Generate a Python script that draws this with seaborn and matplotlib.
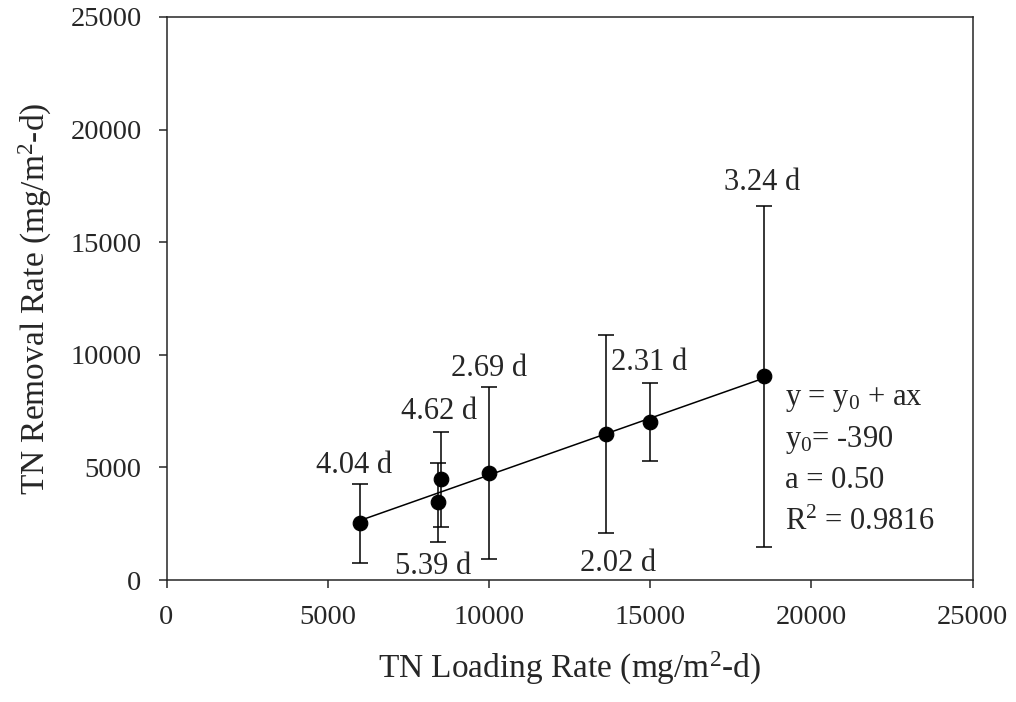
import numpy as np
import pandas as pd
import matplotlib
matplotlib.use('Agg')
import matplotlib.pyplot as plt
import seaborn as sns

# datos
loading = [6000, 8500, 8430, 10000, 13620, 15000, 18540]
removal = [2510, 4480, 3455, 4750, 6465, 7005, 9045]
removal_sd = [1740, 2110, 1755, 3830, 4400, 1725, 7565]
hrt = ['4.04 d', '4.62 d', '5.39 d', '2.69 d', '2.02 d', '2.31 d', '3.24 d']
side = ['above', 'above', 'below', 'above', 'below', 'above', 'above']

eq_lines = ['y = y$_0$ + ax', 'y$_0$= -390', 'a = 0.50', 'R$^2$ = 0.9816']

df = pd.DataFrame({'loading': loading, 'removal': removal, 'sd': removal_sd})

sns.set_style('ticks')
plt.rcParams['font.family'] = ['Liberation Serif', 'DejaVu Serif']
plt.rcParams['mathtext.fontset'] = 'custom'
plt.rcParams['mathtext.rm'] = 'Liberation Serif'
plt.rcParams['mathtext.it'] = 'Liberation Serif:italic'
plt.rcParams['axes.linewidth'] = 1.1
plt.rcParams['xtick.major.width'] = 1.1
plt.rcParams['ytick.major.width'] = 1.1
plt.rcParams['xtick.major.size'] = 6
plt.rcParams['ytick.major.size'] = 6

fig = plt.figure(figsize=(10.16, 7.02), dpi=100, facecolor='white')
ax = fig.add_axes([166.5 / 1016, 122 / 702, 806 / 1016, 563 / 702])

# linea de regresion
sns.regplot(data=df, x='loading', y='removal', ci=None, scatter=False,
            line_kws={'color': 'black', 'lw': 1.1}, ax=ax)

ax.errorbar(df['loading'], df['removal'], yerr=df['sd'], fmt='none',
            ecolor='black', elinewidth=1.1, capsize=6, capthick=1.1, zorder=2)

sns.scatterplot(data=df, x='loading', y='removal', color='black', s=110,
                edgecolor='black', zorder=3, ax=ax)

# etiquetas de TRH
offs = {'above': [(-6, 11), (-1, 13), None, (0, 11), None, (-1, 13), (-2, 16)],
        'below': [None, None, (-5, -32), None, (12, -38), None, None]}
for i, lab in enumerate(hrt):
    s = side[i]
    yend = removal[i] + removal_sd[i] if s == 'above' else removal[i] - removal_sd[i]
    ax.annotate(lab, xy=(loading[i], yend), xytext=offs[s][i],
                textcoords='offset pixels', ha='center', va='baseline', fontsize=22)

# ecuacion
eq_y = [0.3108, 0.2368, 0.1629, 0.0888]
for t, yy in zip(eq_lines, eq_y):
    ax.text(0.7674, yy, t, transform=ax.transAxes, fontsize=22, va='baseline', ha='left')

ax.set_xlim(0, 25000)
ax.set_ylim(0, 25000)
ax.set_xticks(np.arange(0, 25001, 5000))
ax.set_yticks(np.arange(0, 25001, 5000))
ax.tick_params(labelsize=20.5, pad=12)
for sp in ax.spines.values():
    sp.set_visible(True)

ax.set_xlabel('TN Loading Rate (mg/m$^2$-d)', fontsize=24, labelpad=14)
ax.set_ylabel('TN Removal Rate (mg/m$^2$-d)', fontsize=24, labelpad=12)

plt.savefig('out.png', dpi=100, facecolor='white')
